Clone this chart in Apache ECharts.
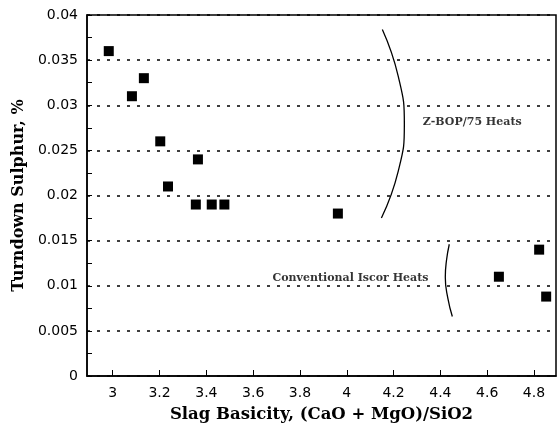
<!DOCTYPE html>
<html>
<head>
<meta charset="utf-8">
<script src="https://cdn.jsdelivr.net/npm/echarts@6/dist/echarts.min.js"></script>
<style>
  html, body { margin: 0; padding: 0; background: #fff; }
  #chart { width: 557px; height: 423px; }
</style>
</head>
<body>
<div id="chart"></div>
<script>
// heats: slag basicity vs turndown sulphur
var basicity = [2.983, 3.082, 3.133, 3.203, 3.236, 3.364, 3.355, 3.423, 3.477, 3.962, 4.650, 4.822, 4.852];
var sulphur  = [0.036, 0.031, 0.033, 0.026, 0.021, 0.024, 0.019, 0.019, 0.019, 0.018, 0.011, 0.014, 0.0088];

// hand-drawn brackets marking the two groups
var zbopArcX = [4.152, 4.220, 4.246, 4.220, 4.148];
var zbopArcY = [0.0384, 0.0332, 0.0279, 0.0227, 0.0175];
var iscorArcX = [4.438, 4.426, 4.421, 4.432, 4.451];
var iscorArcY = [0.0146, 0.0128, 0.01095, 0.0086, 0.0066];

var noteText = ['Z-BOP/75 Heats', 'Conventional Iscor Heats'];
var noteX = [4.536, 4.016];
var noteY = [0.0281, 0.01084];

var xTicks = [3, 3.2, 3.4, 3.6, 3.8, 4, 4.2, 4.4, 4.6, 4.8];

function pairs(xs, ys) {
  return xs.map(function (x, i) { return [x, ys[i]]; });
}

var myChart = echarts.init(document.getElementById('chart'));

var option = {
  animation: false,
  grid: {
    left: 87, right: 1, top: 15, bottom: 47,
    outerBoundsMode: 'none',
    show: true,
    borderColor: '#000',
    borderWidth: 1.5
  },
  xAxis: {
    type: 'value',
    min: 2.89,
    max: 4.894,
    name: 'Slag Basicity, (CaO + MgO)/SiO2',
    nameLocation: 'middle',
    nameGap: 30,
    nameTextStyle: {
      fontFamily: 'DejaVu Serif', fontWeight: 'bold', fontSize: 16.5, color: '#000'
    },
    axisLine: { onZero: false, lineStyle: { color: '#000', width: 1.5 } },
    axisTick: { inside: true, length: 6, customValues: xTicks, lineStyle: { color: '#000' } },
    axisLabel: {
      customValues: xTicks,
      margin: 10,
      color: '#000',
      fontFamily: 'DejaVu Sans',
      fontSize: 14,
      formatter: function (v) { return String(+v.toFixed(2)); }
    },
    splitLine: { show: false }
  },
  yAxis: {
    type: 'value',
    min: 0,
    max: 0.04,
    interval: 0.005,
    name: 'Turndown Sulphur, %',
    nameLocation: 'middle',
    nameGap: 58,
    nameTextStyle: {
      fontFamily: 'DejaVu Serif', fontWeight: 'bold', fontSize: 16, color: '#000'
    },
    axisLine: { show: true, lineStyle: { color: '#000', width: 1.5 } },
    axisTick: { show: true, inside: true, length: 5, lineStyle: { color: '#000' } },
    minorTick: { show: true, splitNumber: 2, length: 5, lineStyle: { color: '#000' } },
    axisLabel: {
      margin: 9,
      color: '#000',
      fontFamily: 'DejaVu Sans',
      fontSize: 14,
      formatter: function (v) { return String(+v.toFixed(4)); }
    },
    splitLine: {
      show: true,
      lineStyle: { color: '#000', width: 1.5, type: [3, 7] }
    }
  },
  series: [
    {
      name: 'heats',
      type: 'scatter',
      symbol: 'rect',
      symbolSize: 10,
      itemStyle: { color: '#000', opacity: 1 },
      data: pairs(basicity, sulphur)
    },
    {
      name: 'zbop',
      type: 'line',
      smooth: true,
      showSymbol: false,
      lineStyle: { color: '#000', width: 1.3 },
      data: pairs(zbopArcX, zbopArcY)
    },
    {
      name: 'iscor',
      type: 'line',
      smooth: true,
      showSymbol: false,
      lineStyle: { color: '#000', width: 1.3 },
      data: pairs(iscorArcX, iscorArcY)
    },
    {
      name: 'notes',
      type: 'scatter',
      symbolSize: 0,
      silent: true,
      data: noteText.map(function (t, i) { return { value: [noteX[i], noteY[i]], name: t }; }),
      label: {
        show: true,
        position: 'inside',
        formatter: '{b}',
        color: '#000',
        fontFamily: 'DejaVu Serif',
        fontWeight: 'bold',
        fontSize: 11
      }
    }
  ]
};

myChart.setOption(option);
</script>
</body>
</html>
